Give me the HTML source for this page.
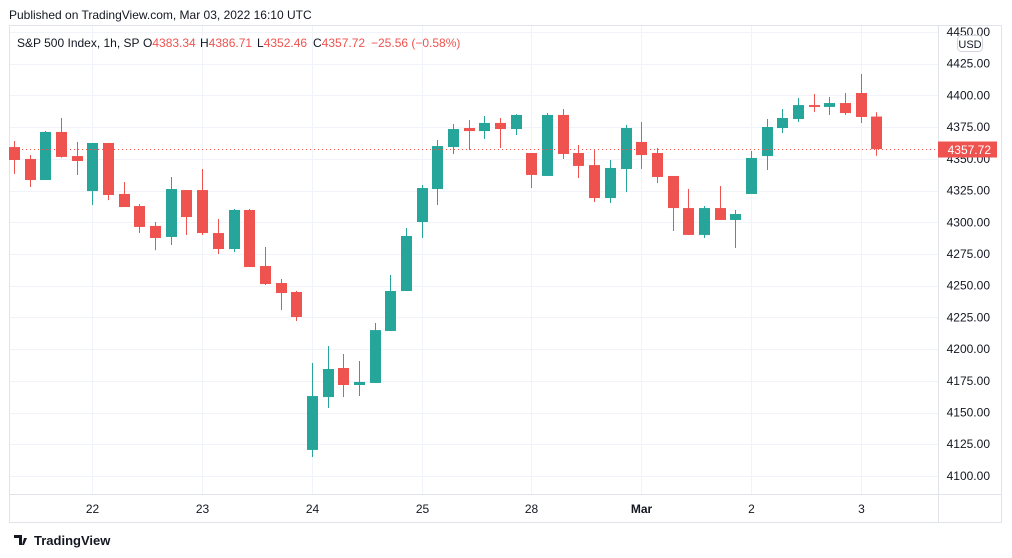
<!DOCTYPE html>
<html><head><meta charset="utf-8"><style>
body{margin:0;background:#fff;font-family:"Liberation Sans",sans-serif;}
#wrap{position:relative;width:1012px;height:558px;overflow:hidden;}
</style></head><body>
<div id="wrap">
<svg id="svg" width="1012" height="558" xmlns="http://www.w3.org/2000/svg">
<text x="9" y="19" font-size="12" fill="#131722" font-family="Liberation Sans, sans-serif">Published on TradingView.com, Mar 03, 2022 16:10 UTC</text>
<rect x="9.5" y="25.5" width="992" height="497" fill="none" stroke="#e0e3eb"/>
<g id="grid"></g>
<g id="candles"></g>
<line x1="938.5" y1="25" x2="938.5" y2="522" stroke="#e0e3eb"/>
<line x1="10" y1="494.5" x2="1001" y2="494.5" stroke="#e0e3eb"/>
<g id="yticks"></g>
<g id="xticks"></g>
<text y="47" font-size="12" fill="#131722"><tspan x="17">S&amp;P 500 Index, 1h, SP</tspan><tspan x="143">O</tspan><tspan fill="#ef5350">4383.34</tspan><tspan x="200">H</tspan><tspan fill="#ef5350">4386.71</tspan><tspan x="257">L</tspan><tspan fill="#ef5350">4352.46</tspan><tspan x="313">C</tspan><tspan fill="#ef5350">4357.72</tspan><tspan x="371" fill="#ef5350">−25.56 (−0.58%)</tspan></text>
<rect x="957.5" y="35.5" width="25" height="16" rx="4" fill="#fff" stroke="#d1d4dc"/>
<text x="970" y="48" font-size="11" text-anchor="middle" fill="#131722">USD</text>
<g id="lastprice"></g>
<text x="34" y="545" font-size="13" fill="#131722" font-weight="bold">TradingView</text>
<path d="M14 535h8v10h-3v-7h-5zM24 538h3l-3 7h-2z" fill="#131722"/>
</svg>
</div>
<script>
const opens=[4359.3,4349.9,4333.3,4371.2,4352.2,4324.6,4362.5,4322.3,4312.8,4297.1,4288.4,4325.4,4325.4,4291.5,4278.9,4309.7,4265.5,4252.1,4245.0,4120.5,4162.2,4185.1,4171.7,4173.3,4214.3,4245.8,4300.2,4326.2,4359.3,4374.3,4371.9,4378.3,4373.5,4354.6,4336.5,4384.6,4354.6,4345.1,4319.1,4342.0,4363.3,4354.6,4336.5,4311.2,4290.0,4311.2,4301.8,4322.3,4352.2,4374.3,4381.4,4392.4,4390.9,4394.0,4401.9,4383.34];
const highs=[4364.1,4353.0,4371.9,4382.2,4363.3,4362.5,4362.5,4331.7,4314.4,4300.2,4335.7,4325.4,4342.0,4302.6,4310.5,4310.5,4280.5,4255.3,4245.8,4189.0,4202.4,4196.1,4190.6,4220.6,4258.4,4295.5,4329.4,4364.9,4377.5,4380.6,4383.8,4382.2,4385.3,4354.6,4386.1,4389.3,4360.9,4356.9,4349.1,4376.7,4379.0,4358.5,4336.5,4326.2,4312.8,4328.6,4309.7,4356.2,4381.4,4389.3,4398.0,4401.1,4398.8,4401.9,4416.9,4386.71];
const lows=[4338.1,4327.8,4333.3,4351.0,4337.3,4313.6,4317.5,4312.0,4291.5,4277.9,4282.1,4290.0,4290.0,4275.0,4276.5,4264.7,4250.5,4230.8,4222.2,4114.9,4153.6,4162.2,4163.0,4173.3,4214.3,4245.8,4287.6,4313.6,4353.8,4357.0,4365.6,4358.5,4368.8,4327.0,4336.5,4349.9,4334.9,4316.0,4315.2,4323.8,4342.0,4330.9,4293.1,4290.0,4287.6,4301.8,4279.7,4322.3,4341.2,4370.4,4379.0,4386.9,4384.6,4384.6,4378.3,4352.46];
const closes=[4349.1,4333.3,4371.2,4351.5,4348.3,4362.5,4321.5,4312.0,4296.3,4287.6,4326.2,4304.1,4291.5,4278.9,4309.7,4264.7,4251.3,4244.2,4225.3,4163.0,4184.3,4171.7,4174.1,4215.0,4245.8,4289.2,4327.0,4360.1,4373.5,4371.9,4378.3,4373.5,4384.6,4337.3,4384.6,4353.8,4344.4,4319.1,4342.8,4374.3,4353.0,4335.7,4311.2,4290.0,4311.2,4301.8,4306.5,4350.7,4375.1,4382.2,4392.4,4390.9,4394.0,4386.1,4383.0,4357.72];
const yTicks=[4100,4125,4150,4175,4200,4225,4250,4275,4300,4325,4350,4375,4400,4425,4450];
const dayLabels=["22","23","24","25","28","Mar","2","3"];
const dayIndex=[5,12,19,26,33,40,47,54];
const lastPrice=4357.72;

const NS="http://www.w3.org/2000/svg";
function y(p){return 32+(4450-p)/25*31.71;}
function x(i){return 14+i*15.68;}
function mk(tag,attrs,parent){const e=document.createElementNS(NS,tag);for(const k in attrs)e.setAttribute(k,attrs[k]);parent.appendChild(e);return e;}
const grid=document.getElementById('grid'),cg=document.getElementById('candles'),yt=document.getElementById('yticks'),xt=document.getElementById('xticks'),lp=document.getElementById('lastprice');
yTicks.forEach(v=>{
  const yy=Math.round(y(v))+0.5;
  const l=mk('line',{x1:10,x2:938,y1:yy,y2:yy,stroke:'#f0f3fa'},grid);
  
  
  const t=mk('text',{x:990,y:y(v)+4,'font-size':12,'text-anchor':'end',fill:'#131722'},yt);
  t.textContent=v.toFixed(2);
  
  
});
dayLabels.forEach((d,k)=>{
  const xx=Math.round(x(dayIndex[k]))+0.5;
  const l=mk('line',{x1:xx,x2:xx,y1:26,y2:494,stroke:'#f0f3fa'},grid);
  
  
  const t=mk('text',{x:xx,y:513,'font-size':12,'text-anchor':'middle',fill:'#131722','font-weight':d==='Mar'?'bold':'normal'},xt);
  t.textContent=d;
  
  
});
for(let i=0;i<opens.length;i++){
  const up=closes[i]>=opens[i];const col=up?'#26a69a':'#ef5350';
  const cx=Math.round(x(i));
  const g=mk('g',{},cg);
  
  
  mk('line',{x1:cx+0.5,x2:cx+0.5,y1:y(highs[i]),y2:y(lows[i]),stroke:col,'stroke-width':1},g);
  const top=y(Math.max(opens[i],closes[i])),bot=y(Math.min(opens[i],closes[i]));
  mk('rect',{x:cx-5,y:top,width:11,height:Math.max(1,bot-top),fill:col},g);
}
const ly=Math.round(y(lastPrice))+0.5;
const pl=mk('line',{x1:10,x2:938,y1:ly,y2:ly,stroke:'#ef5350','stroke-dasharray':'1 3'},lp);


const pr=mk('rect',{x:938,y:ly-8,width:59,height:16,fill:'#ef5350'},lp);


const pt=mk('text',{x:991,y:ly+4.5,'font-size':12,'text-anchor':'end',fill:'#fff'},lp);
pt.textContent=lastPrice.toFixed(2);


</script>
</body></html>
